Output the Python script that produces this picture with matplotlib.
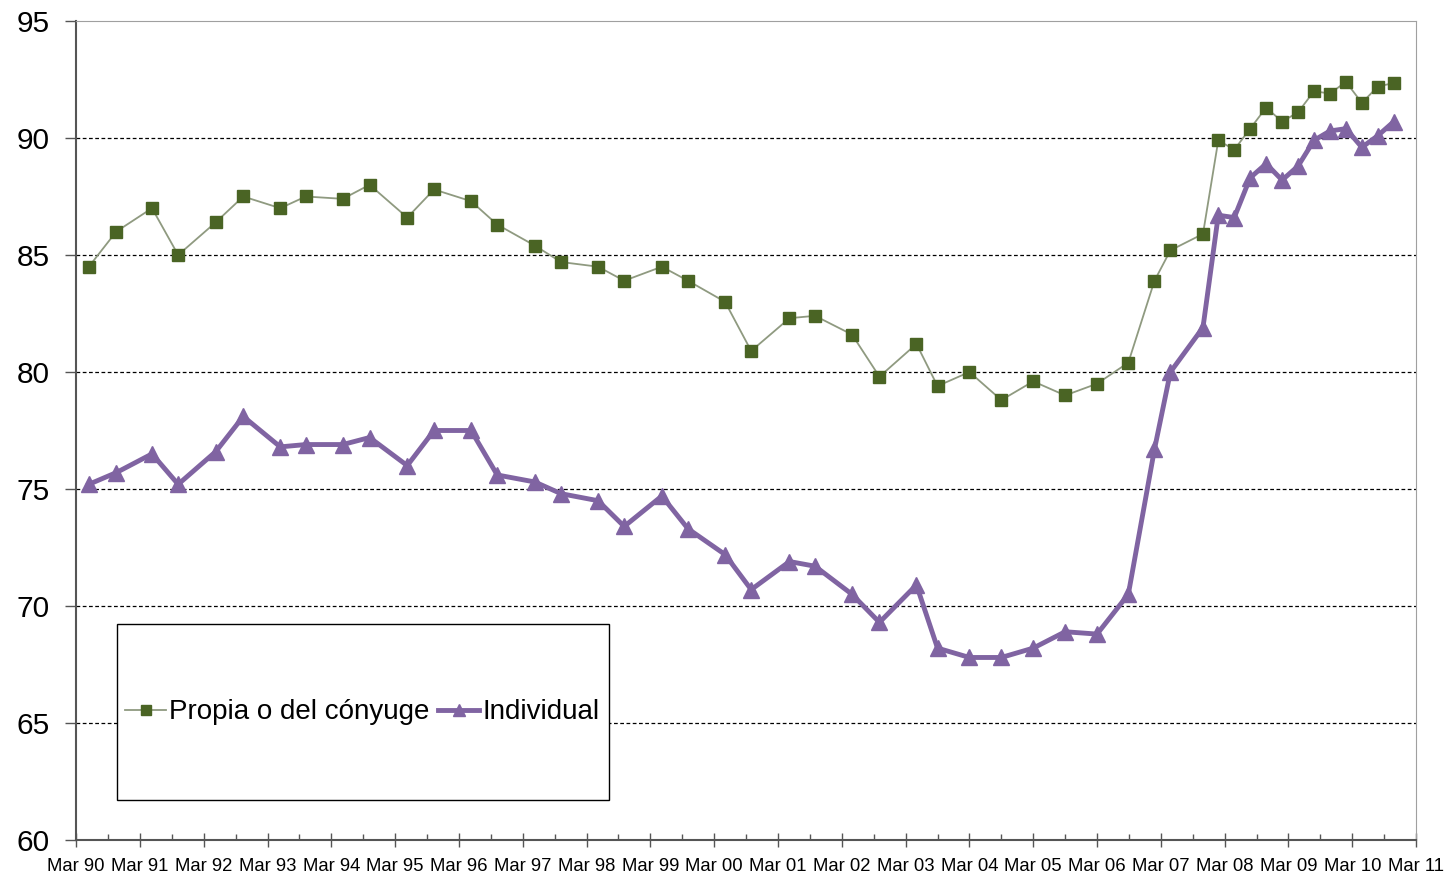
import matplotlib
matplotlib.use("Agg")
import matplotlib.pyplot as plt
from matplotlib.patches import Rectangle
from matplotlib.ticker import MultipleLocator

plt.rcParams['font.family'] = ['Liberation Sans', 'DejaVu Sans']

# fechas en años decimales (Mar AAAA = AAAA)
fechas = [1990.2, 1990.63, 1991.19, 1991.6, 1992.19, 1992.62, 1993.2, 1993.6,
          1994.18, 1994.6, 1995.19, 1995.61, 1996.19, 1996.6, 1997.19, 1997.6,
          1998.18, 1998.59, 1999.18, 1999.59, 2000.17, 2000.58, 2001.18, 2001.58,
          2002.16, 2002.59, 2003.17, 2003.5, 2004.0, 2004.5, 2005.0, 2005.5,
          2006.0, 2006.49, 2006.9, 2007.15, 2007.66, 2007.9, 2008.15, 2008.4,
          2008.65, 2008.9, 2009.15, 2009.4, 2009.65, 2009.9, 2010.15, 2010.4,
          2010.65]

propia = [84.5, 86.0, 87.0, 85.0, 86.4, 87.5, 87.0, 87.5,
          87.4, 88.0, 86.6, 87.8, 87.3, 86.3, 85.4, 84.7,
          84.5, 83.9, 84.5, 83.9, 83.0, 80.9, 82.3, 82.4,
          81.6, 79.8, 81.2, 79.4, 80.0, 78.8, 79.6, 79.0,
          79.5, 80.4, 83.9, 85.2, 85.9, 89.9, 89.5, 90.4,
          91.3, 90.7, 91.1, 92.0, 91.9, 92.4, 91.5, 92.2,
          92.35]

individual = [75.2, 75.7, 76.5, 75.2, 76.6, 78.1, 76.8, 76.9,
              76.9, 77.2, 76.0, 77.5, 77.5, 75.6, 75.3, 74.8,
              74.5, 73.4, 74.7, 73.3, 72.2, 70.7, 71.9, 71.7,
              70.5, 69.3, 70.9, 68.2, 67.8, 67.8, 68.2, 68.9,
              68.8, 70.5, 76.7, 80.0, 81.9, 86.7, 86.6, 88.3,
              88.9, 88.2, 88.8, 89.9, 90.3, 90.4, 89.6, 90.1,
              90.7]

anios = list(range(1990, 2012))
etiquetas = ["Mar %02d" % (a % 100) for a in anios]

fig = plt.figure(figsize=(14.49, 8.75), dpi=100)
ax = fig.add_axes([0.0525, 0.04, 0.9248, 0.936])

ax.plot(fechas, propia, color="#8f9a80", lw=1.3, marker="s", ms=9,
        mfc="#4a6424", mec="#4a6424", label="Propia o del cónyuge", zorder=3)
ax.plot(fechas, individual, color="#8064a2", lw=3.5, marker="^", ms=11,
        mfc="#8064a2", mec="#8064a2", label="Individual", zorder=3)

ax.set_xlim(1990, 2011)
ax.set_ylim(60, 95)
ax.set_xticks(anios)
ax.set_xticklabels(etiquetas, fontsize=13.3)
ax.xaxis.set_minor_locator(MultipleLocator(0.5))
ax.set_yticks(range(60, 96, 5))
ax.tick_params(axis='y', labelsize=21.5, length=8, width=1, color="#555555", pad=11)
ax.tick_params(axis='x', which='major', direction='inout', length=10, width=1,
               color="#555555", pad=8)
ax.tick_params(axis='x', which='minor', direction='in', length=4, width=1,
               color="#555555")

for g in range(65, 95, 5):
    ax.axhline(g, color="black", lw=0.9, ls=(0, (3, 2)), zorder=1)

ax.spines['left'].set_color("#555555")
ax.spines['bottom'].set_color("#555555")
ax.spines['left'].set_linewidth(1.5)
ax.spines['bottom'].set_linewidth(1.5)
ax.spines['top'].set_color("#a0a0a0")
ax.spines['right'].set_color("#a0a0a0")

# caja de la leyenda
ax.add_patch(Rectangle((0.0306, 0.0488), 0.3668, 0.2149, transform=ax.transAxes,
                       facecolor="white", edgecolor="black", lw=1.0, zorder=4))
leg = ax.legend(loc="center", bbox_to_anchor=(0.2134, 0.156), ncol=2,
                frameon=False, fontsize=20, handlelength=1.5, handletextpad=0.1,
                columnspacing=0.3, markerscale=0.75)
leg.set_zorder(5)

fig.savefig("out.png", dpi=100)
